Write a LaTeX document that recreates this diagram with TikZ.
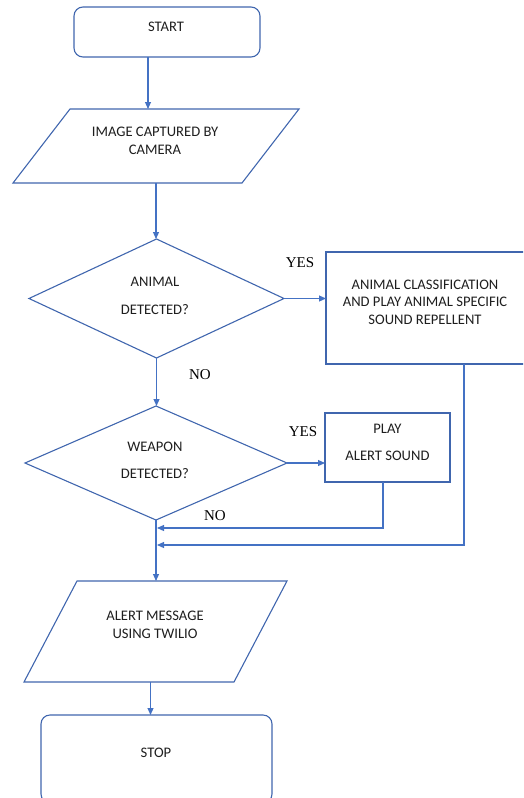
\documentclass[tikz,border=0pt]{standalone}
\usepackage{fontspec}
\setmainfont{Carlito}
\newfontfamily\yesfont{Liberation Serif}
\usetikzlibrary{shapes.geometric,arrows.meta}
\definecolor{lnc}{HTML}{4472C4}
\definecolor{shc}{HTML}{4066AE}
\definecolor{txc}{HTML}{1E1E1E}
\begin{document}
\begin{tikzpicture}[x=1pt,y=-1pt,
 shp/.style={draw=shc,line width=1.1pt,inner sep=0pt,outer sep=0pt},
 term/.style={shp,rectangle,rounded corners=9pt},
 iobox/.style={rectangle,inner sep=0pt,outer sep=0pt},
 ioline/.style={draw=shc,line width=1.1pt,line join=miter},
 dec/.style={shp,diamond},
 proc/.style={shp,rectangle},
 txt/.style={font=\fontsize{14.6}{17.5}\selectfont,text=txc,align=center,inner sep=0pt},
 lbl/.style={font=\yesfont\fontsize{15}{18}\selectfont,text=black,inner sep=0pt},
 arr/.style={draw=lnc,line width=1.1pt,-{Triangle[length=7pt,width=6pt]}}]
\path[use as bounding box] (0,0) rectangle (523,798);
\clip (0,0) rectangle (523,798);

% shapes
\node[term,minimum width=186pt,minimum height=50pt] (start) at (167,32) {};
\node[txt] (startT) at (166,27) {START};

\node[iobox,minimum width=286pt,minimum height=74pt] (img) at (156,146) {};
\draw[ioline] ([xshift=57pt]img.north west) -- (img.north east) -- ([xshift=-57pt]img.south east) -- (img.south west) -- cycle;
\node[txt] (imgT) at (155,141) {IMAGE CAPTURED BY\\CAMERA};

\node[dec,minimum width=255pt,minimum height=119pt] (d1) at (156.5,298.5) {};
\node[txt] (d1T) at (155,296) {ANIMAL\\[10.5pt]DETECTED?};

\node[proc,minimum width=210pt,minimum height=112pt,anchor=north west] (b1) at (326,252) {};
\node[txt] (b1T) at (425,302) {ANIMAL CLASSIFICATION\\AND PLAY ANIMAL SPECIFIC\\SOUND REPELLENT};

\node[dec,minimum width=262pt,minimum height=114pt] (d2) at (156,463) {};
\node[txt] (d2T) at (155,460.5) {WEAPON\\[9.5pt]DETECTED?};

\node[proc,minimum width=125pt,minimum height=69pt,anchor=north west] (b2) at (325,413) {};
\node[txt] (b2T) at (387.5,442.5) {PLAY\\[9.5pt]ALERT SOUND};

\node[iobox,minimum width=263pt,minimum height=101pt] (p2) at (155.5,631.5) {};
\draw[ioline] ([xshift=53pt]p2.north west) -- (p2.north east) -- ([xshift=-53pt]p2.south east) -- (p2.south west) -- cycle;
\node[txt] (p2T) at (155,625) {ALERT MESSAGE\\USING TWILIO};

\node[term,minimum width=231pt,minimum height=88pt,anchor=north west] (stop) at (41,715) {};
\node[txt] (stopT) at (156,753) {STOP};

% labels
\node[lbl] (yes1) at (300,263) {YES};
\node[lbl] (no1) at (200,375) {NO};
\node[lbl] (yes2) at (303,432) {YES};
\node[lbl] (no2) at (215,516) {NO};

% connectors
\coordinate (m1) at (157,528);
\coordinate (m2) at (157,545);
\draw[arr] ([xshift=-19pt]start.south) -- ([xshift=-19pt]start.south |- img.north);
\draw[arr] (img.south) -- (img.south |- d1.north);
\draw[arr] (d1.east) -- (d1.east -| b1.west);
\draw[arr] (d1.south) -- (d1.south |- d2.north);
\draw[arr] (d2.east) -- (d2.east -| b2.west);
\draw[arr] ([xshift=-4.5pt]b2.south) |- (m1);
\draw[arr] ([xshift=33pt]b1.south) |- (m2);
\draw[arr] (d2.south) -- (d2.south |- p2.north);
\draw[arr] ([xshift=-5pt]p2.south) -- ([xshift=-5pt]p2.south |- stop.north);
\end{tikzpicture}
\end{document}
